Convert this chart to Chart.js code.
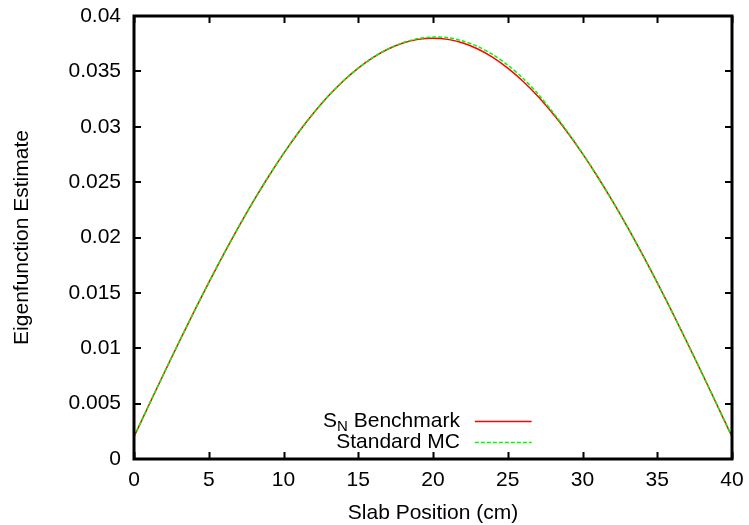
<!DOCTYPE html>
<html lang="en">
<head>
  <meta charset="UTF-8">
  <title>Eigenfunction Estimate</title>
  <script src="https://cdn.jsdelivr.net/npm/chart.js"></script>
  <style>
    html, body { margin: 0; padding: 0; background: #fff; }
    #wrap { position: relative; width: 749px; height: 525px; }
  </style>
</head>
<body>
  <div id="wrap">
    <canvas id="eigenChart" width="749" height="525"></canvas>
  </div>

  <script>
    // slab position (cm)
    const positions = [0, 1, 2, 3, 4, 5, 6, 7, 8, 9, 10, 11, 12, 13, 14, 15, 16, 17, 18, 19, 20,
                       21, 22, 23, 24, 25, 26, 27, 28, 29, 30, 31, 32, 33, 34, 35, 36, 37, 38, 39, 40];

    const snBenchmark = [0.00201, 0.00488, 0.00772, 0.01052, 0.01326, 0.01592, 0.01849, 0.02096, 0.02330, 0.02551,
                         0.02757, 0.02948, 0.03121, 0.03277, 0.03413, 0.03529, 0.03626, 0.03702, 0.03756, 0.03789,
                         0.03800,
                         0.03789, 0.03756, 0.03702, 0.03626, 0.03529, 0.03413, 0.03277, 0.03121, 0.02948, 0.02757,
                         0.02551, 0.02330, 0.02096, 0.01849, 0.01592, 0.01326, 0.01052, 0.00772, 0.00488, 0.00201];

    const standardMC = [0.00201, 0.00488, 0.00772, 0.01052, 0.01326, 0.01592, 0.01849, 0.02096, 0.02330, 0.02551,
                        0.02757, 0.02948, 0.03121, 0.03277, 0.03413, 0.03529, 0.03626, 0.03703, 0.03759, 0.03796,
                        0.03810,
                        0.03804, 0.03774, 0.03724, 0.03652, 0.03557, 0.03440, 0.03300, 0.03134, 0.02954, 0.02759,
                        0.02552, 0.02330, 0.02096, 0.01849, 0.01592, 0.01326, 0.01052, 0.00772, 0.00488, 0.00201];

    const xTicks = [0, 5, 10, 15, 20, 25, 30, 35, 40];
    const yTickLabels = ['0', '0.005', '0.01', '0.015', '0.02', '0.025', '0.03', '0.035', '0.04'];

    const FONT = 'Liberation Sans, Arial, Helvetica, sans-serif';

    // gnuplot style frame with ticks pointing inward on all four sides
    const framePlugin = {
      id: 'frame',
      afterDatasetsDraw(chart) {
        const { ctx, chartArea: a, scales: { x, y } } = chart;
        const len = 7;
        ctx.save();
        ctx.strokeStyle = '#000';
        ctx.lineWidth = 2;
        ctx.beginPath();
        x.ticks.forEach(t => {
          const px = Math.round(x.getPixelForValue(t.value)) + 0.5;
          ctx.moveTo(px, a.bottom); ctx.lineTo(px, a.bottom - len);
          ctx.moveTo(px, a.top); ctx.lineTo(px, a.top + len);
        });
        y.ticks.forEach(t => {
          const py = Math.round(y.getPixelForValue(t.value));
          ctx.moveTo(a.left, py); ctx.lineTo(a.left + len, py);
          ctx.moveTo(a.right, py); ctx.lineTo(a.right - len, py);
        });
        ctx.stroke();
        ctx.lineWidth = 3;
        ctx.strokeRect(a.left, a.top, a.right - a.left, a.bottom - a.top);
        ctx.restore();
      }
    };

    // key in the lower middle, text right aligned, sample line to the right
    const keyPlugin = {
      id: 'key',
      afterDraw(chart) {
        const { ctx, scales: { x, y } } = chart;
        const textRight = x.getPixelForValue(21.8);
        const lineL = x.getPixelForValue(22.8);
        const lineR = x.getPixelForValue(26.6);
        const rows = [y.getPixelForValue(0.00343), y.getPixelForValue(0.00153)];
        ctx.save();
        chart.data.datasets.forEach((ds, i) => {
          const rowY = rows[i];
          const parts = ds.keyParts;
          ctx.textBaseline = 'middle';
          ctx.fillStyle = '#000';
          let px = textRight;
          for (let k = parts.length - 1; k >= 0; k--) {
            const p = parts[k];
            ctx.font = (p.sub ? '15px ' : '21px ') + FONT;
            const w = ctx.measureText(p.text).width;
            px -= w;
            ctx.textAlign = 'left';
            ctx.fillText(p.text, px, rowY + (p.sub ? 6 : 0));
          }
          ctx.strokeStyle = ds.borderColor;
          ctx.lineWidth = ds.borderWidth;
          ctx.setLineDash(ds.borderDash || []);
          ctx.beginPath();
          ctx.moveTo(lineL, rowY + 0.5);
          ctx.lineTo(lineR, rowY + 0.5);
          ctx.stroke();
        });
        ctx.restore();
      }
    };

    new Chart(document.getElementById('eigenChart'), {
      type: 'line',
      data: {
        labels: positions,
        datasets: [{
          label: 'SN Benchmark',
          keyParts: [{ text: 'S' }, { text: 'N', sub: true }, { text: ' Benchmark' }],
          data: snBenchmark,
          borderColor: 'rgb(255,0,0)',
          borderWidth: 1.5,
          pointRadius: 0,
          tension: 0.3,
          order: 2
        }, {
          label: 'Standard MC',
          keyParts: [{ text: 'Standard MC' }],
          data: standardMC,
          borderColor: 'rgb(0,250,0)',
          borderWidth: 1.5,
          borderDash: [4, 2],
          pointRadius: 0,
          tension: 0.3,
          order: 1
        }]
      },
      options: {
        responsive: false,
        animation: false,
        layout: { padding: { top: 16, right: 17, left: 0, bottom: 0 } },
        plugins: { legend: { display: false }, tooltip: { enabled: false } },
        scales: {
          x: {
            type: 'linear',
            min: 0, max: 40,
            afterBuildTicks: s => { s.ticks = xTicks.map(v => ({ value: v })); },
            afterFit: s => { s.height = 66; s.paddingLeft = 0; s.paddingRight = 0; },
            grid: { display: false, drawTicks: false },
            border: { display: false },
            ticks: { color: '#000', font: { family: FONT, size: 21 }, padding: 9, maxRotation: 0 },
            title: { display: true, text: 'Slab Position (cm)', color: '#000',
                     font: { family: FONT, size: 21, lineHeight: 1 }, padding: { top: 0, bottom: 1 } }
          },
          y: {
            min: 0, max: 0.04,
            afterBuildTicks: s => { s.ticks = yTickLabels.map(v => ({ value: Number(v) })); },
            afterFit: s => { s.width = 134; s.paddingTop = 0; s.paddingBottom = 0; },
            grid: { display: false, drawTicks: false },
            border: { display: false },
            ticks: { color: '#000', font: { family: FONT, size: 21 }, padding: 13,
                     callback: (v, i) => yTickLabels[i] },
            title: { display: true, text: 'Eigenfunction Estimate', color: '#000',
                     font: { family: FONT, size: 21 }, padding: { top: 10, bottom: 0 } }
          }
        }
      },
      plugins: [framePlugin, keyPlugin]
    });
  </script>
</body>
</html>
